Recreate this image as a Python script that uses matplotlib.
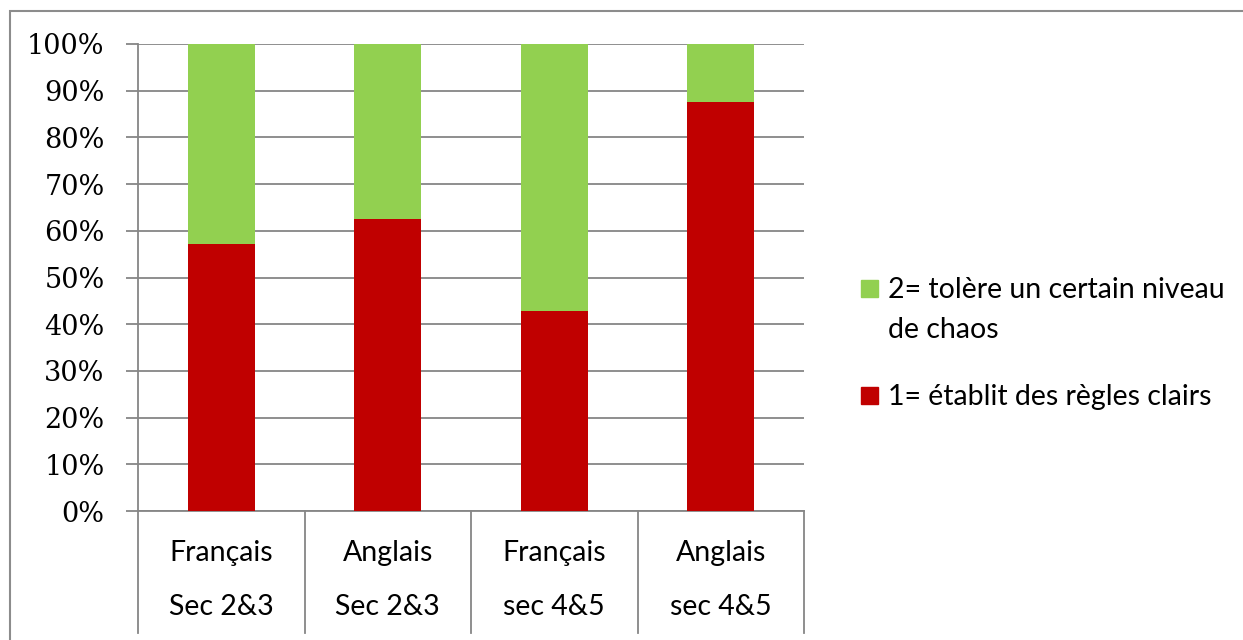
import matplotlib
matplotlib.use("Agg")
import matplotlib.pyplot as plt
from matplotlib.patches import Rectangle
from matplotlib.lines import Line2D

# Data
categories_top = ["Français", "Anglais", "Français", "Anglais"]
categories_bottom = ["Sec 2&3", "Sec 2&3", "sec 4&5", "sec 4&5"]
regles_clairs = [57.1, 62.5, 42.9, 87.5]
chaos = [42.9, 37.5, 57.1, 12.5]
series_labels = ["2= tolère un certain niveau\nde chaos", "1= établit des règles clairs"]
yticks = list(range(0, 101, 10))

RED = "#C00000"
GREEN = "#92D050"
GRID = "#868686"

W, H = 1243, 640
fig = plt.figure(figsize=(W / 100, H / 100), dpi=100)
fig.patch.set_facecolor("white")

# outer frame (partially cut by the image edges)
fig.add_artist(Rectangle((10 / W, -0.05), 1.2, 1 - 11 / H + 0.05,
                         transform=fig.transFigure, fill=False,
                         edgecolor="#8c8c8c", linewidth=1.5))

left, right, top, bottom = 138 / W, 804 / W, 1 - 44 / H, 1 - 511 / H
ax = fig.add_axes([left, bottom, right - left, top - bottom])

x = list(range(len(categories_top)))
ax.bar(x, regles_clairs, width=0.4, color=RED, zorder=3)
ax.bar(x, chaos, width=0.4, bottom=regles_clairs, color=GREEN, zorder=3)

ax.set_xlim(-0.5, len(x) - 0.5)
ax.set_ylim(0, 100)
ax.set_yticks(yticks)
ax.set_yticklabels([f"{v}%" for v in yticks], family="DejaVu Serif", fontsize=19.5)
ax.yaxis.grid(True, color=GRID, linewidth=1.3, zorder=0)
ax.tick_params(axis="y", length=9, width=1.3, color=GRID, pad=15, labelcolor="black")
ax.set_xticks([])

for s in ["top", "right"]:
    ax.spines[s].set_visible(False)
for s in ["left", "bottom"]:
    ax.spines[s].set_color(GRID)
    ax.spines[s].set_linewidth(1.3)

# category separators reaching down through the label rows
trans = ax.get_xaxis_transform()
sep_bottom = -(633 - 511) / (511 - 44)
for b in [i - 0.5 for i in range(len(x) + 1)]:
    ax.add_line(Line2D([b, b], [0, sep_bottom], transform=trans, color=GRID,
                       linewidth=1.3, clip_on=False))

row1 = -(553 - 511) / (511 - 44)
row2 = -(607 - 511) / (511 - 44)
for xi, t1, t2 in zip(x, categories_top, categories_bottom):
    ax.text(xi, row1, t1, transform=trans, ha="center", va="center",
            fontsize=20.5, family="Lato")
    ax.text(xi, row2, t2, transform=trans, ha="center", va="center",
            fontsize=20.5, family="Lato")

# legend: colour square beside the first line of each entry
leg_x = 861 / W
sq_w, sq_h = 17 / W, 17 / H
line_gap = 40
for (cy, color, label) in [(288, GREEN, series_labels[0]), (395, RED, series_labels[1])]:
    fig.add_artist(Rectangle((leg_x, 1 - (cy + 8.5) / H), sq_w, sq_h,
                             transform=fig.transFigure, color=color))
    for k, line in enumerate(label.split("\n")):
        fig.text(888 / W, 1 - (cy + k * line_gap) / H, line, ha="left",
                 va="center_baseline", fontsize=20.5, family="Lato")

fig.savefig("out.png", dpi=100, facecolor="white")
